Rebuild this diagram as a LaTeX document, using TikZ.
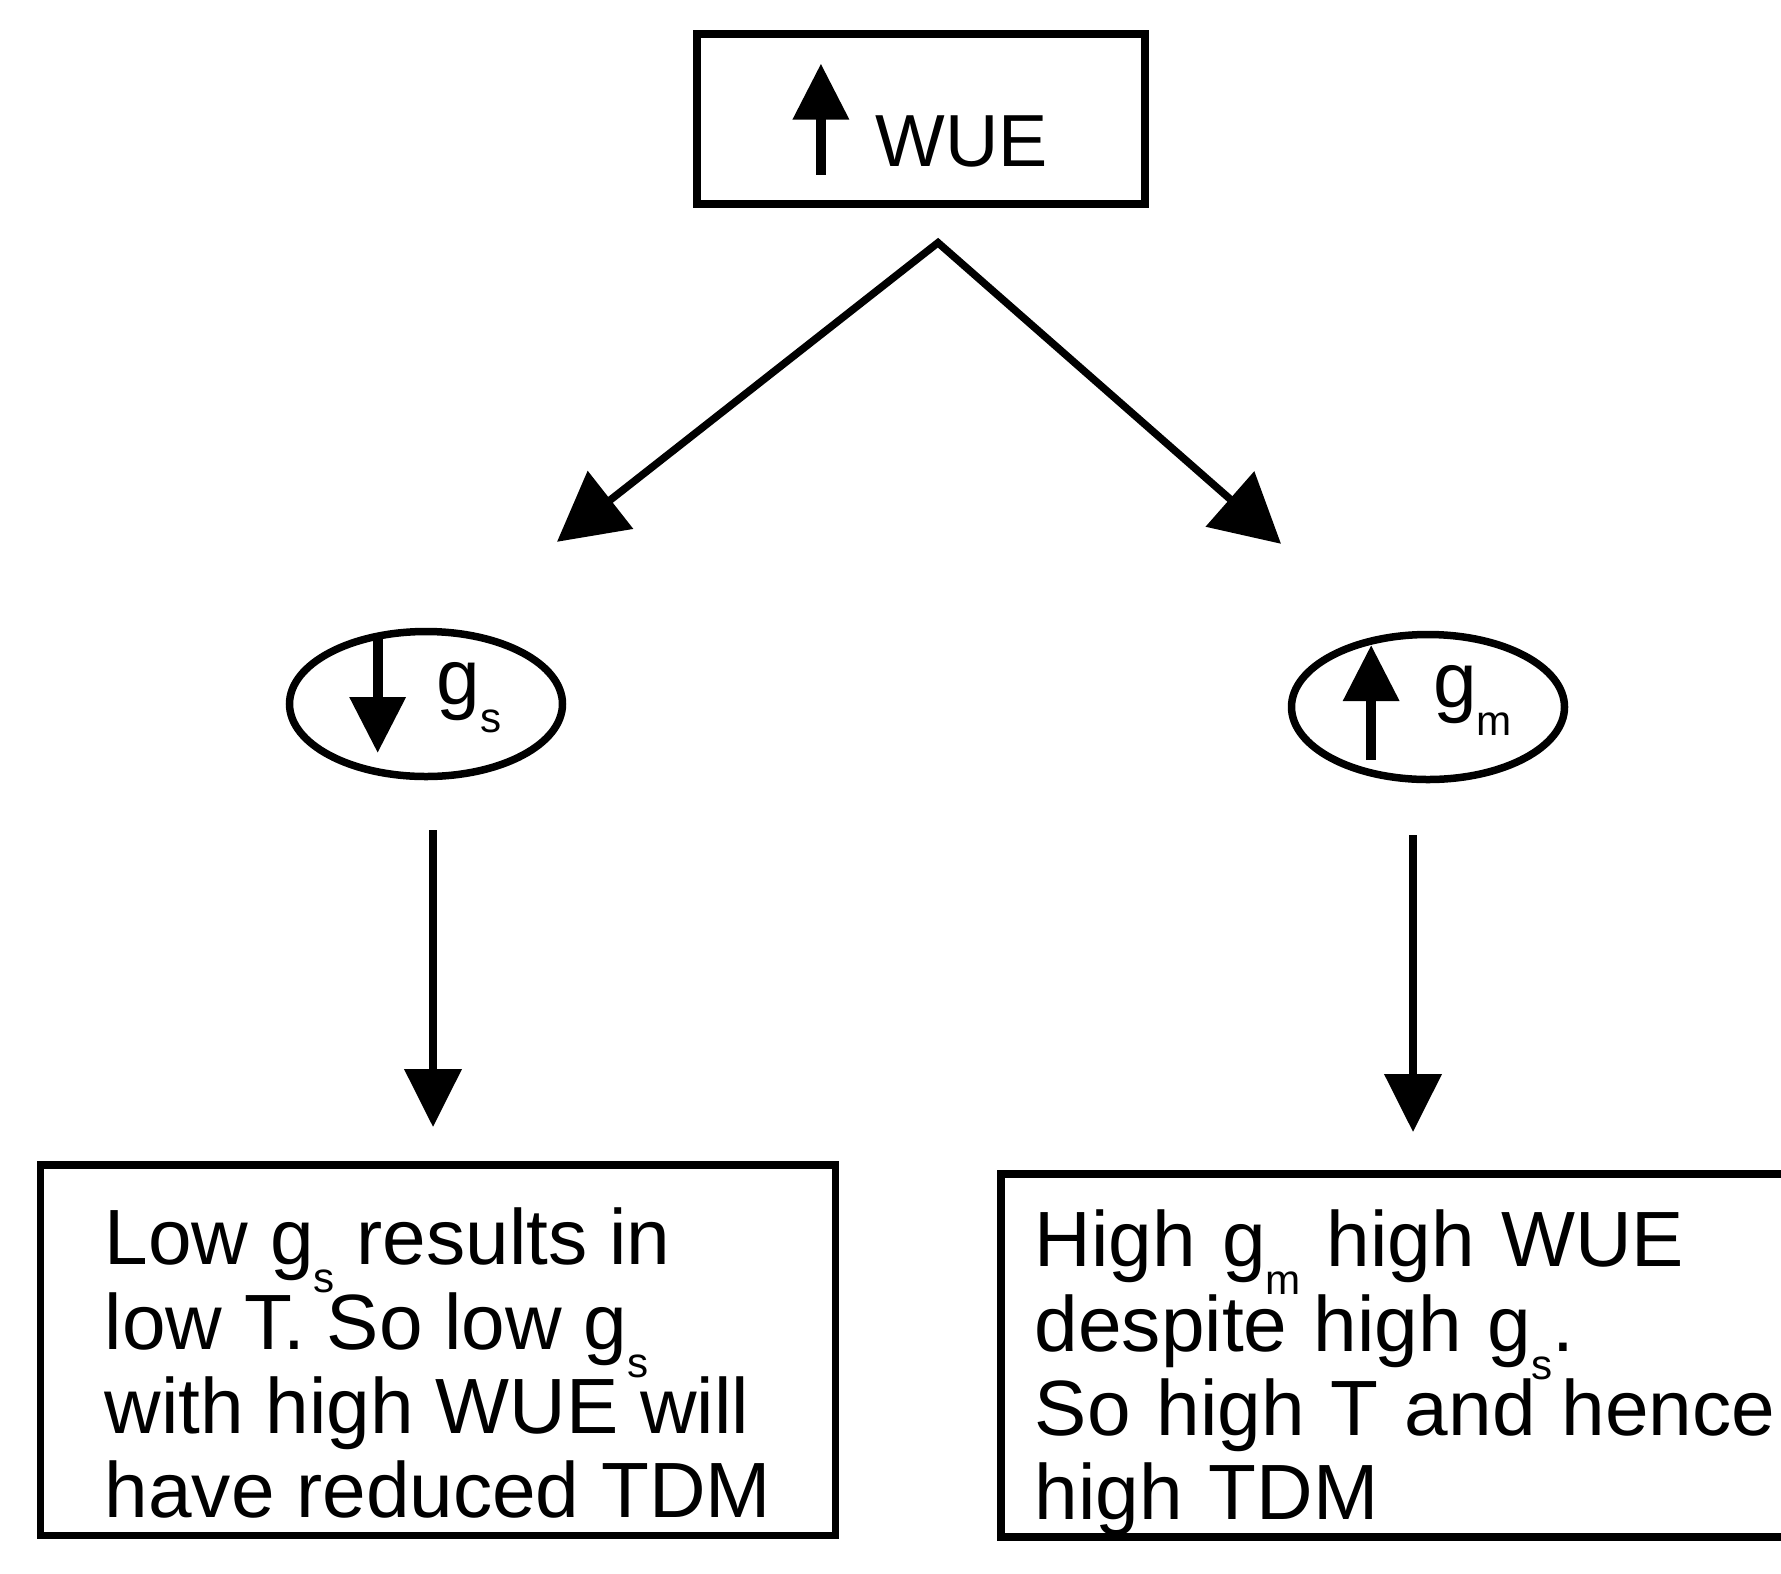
\documentclass[tikz,border=0pt]{standalone}
\usepackage{fontspec}
\setmainfont{Liberation Sans}
\usepackage{tikz}
\usetikzlibrary{arrows.meta,positioning,shapes.geometric}

% small filled arrow drawn inside the labels
\newcommand{\symarrow}[2]{\tikz[baseline=0pt]\draw[line width=0.1cm,-{Triangle[length=0.56cm,width=0.54cm]}] (0,#1) -- (0,#2);}
\newcommand{\lowsub}[1]{\raisebox{-0.36em}[0pt][0pt]{\fontsize{12}{12}\selectfont #1}}

\begin{document}
\begin{tikzpicture}[
  line width=0.075cm,
  topbox/.style={rectangle, draw, minimum width=4.48cm, minimum height=1.70cm, inner sep=0pt, font=\fontsize{21}{24}\selectfont},
  oval/.style={ellipse, draw, minimum width=2.73cm, minimum height=1.45cm, inner sep=0pt, text height=0.3cm, text depth=0.3cm, font=\fontsize{22.3}{24}\selectfont},
  textbox/.style={rectangle, draw, align=left, anchor=north west, font=\fontsize{22.3}{24}\selectfont},
  arrow/.style={-{Triangle[length=0.58cm, width=0.56cm]}},
  forkarrow/.style={{Triangle[length=0.68cm, width=0.72cm]}-{Triangle[length=0.68cm, width=0.72cm]}, line join=miter}
]
\useasboundingbox (0,0) rectangle (17.81,-15.73);

\node[topbox] (wue) at (9.21,-1.19) {\symarrow{-0.08}{1.03}\hspace{0.28cm}WUE};
\node[oval] (gs) at (4.26,-7.04) {\symarrow{0.66}{-0.49}\hspace{0.32cm}g\lowsub{s}};
\node[oval] (gm) at (14.28,-7.07) {\symarrow{-0.53}{0.62}\hspace{0.35cm}g\lowsub{m}};
\node[textbox, inner xsep=0.64cm, inner ysep=0.17cm] (lowbox) at (0.37,-11.61)
  {\rule{0pt}{0.83cm}Low g\lowsub{s} results in\\low T. So low g\lowsub{s}\\with high WUE will\\have reduced TDM};
\node[textbox, text width=8cm, inner xsep=0.34cm, inner ysep=0.01cm] (highbox) at (9.97,-11.70)
  {\rule{0pt}{0.92cm}High g\lowsub{m} high WUE\\despite high g\lowsub{s}.\\So high T and hence\\high TDM};

\coordinate[below=0.38cm of wue.south, xshift=0.17cm] (fork);
\coordinate[above right=0.89cm and 1.31cm of gs.north] (gsin);
\coordinate[above left=0.90cm and 1.47cm of gm.north] (gmin);

\draw[forkarrow] (gsin) -- (fork) -- (gmin);
\draw[arrow, shorten <=0.53cm, shorten >=0.34cm] ([xshift=0.07cm]gs.south) -- ([xshift=0.07cm]gs.south |- lowbox.north);
\draw[arrow, shorten <=0.55cm, shorten >=0.38cm] ([xshift=-0.15cm]gm.south) -- ([xshift=-0.15cm]gm.south |- highbox.north);
\end{tikzpicture}
\end{document}
